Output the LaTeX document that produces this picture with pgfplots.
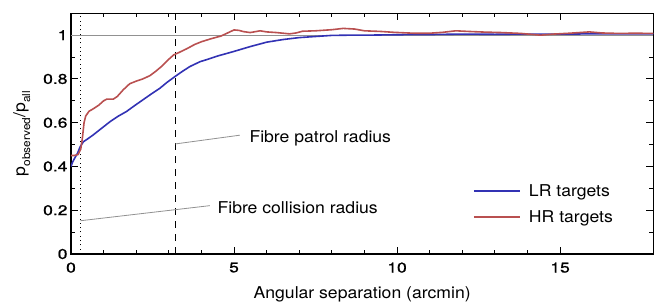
\documentclass[border=0pt]{standalone}
\usepackage{fontspec}
\setmainfont[FakeStretch=1.08]{TeX Gyre Heros}
\newfontfamily\tickfont[FakeStretch=1.24,FakeBold=1]{TeX Gyre Heros}
\usepackage{pgfplots}
\pgfplotsset{compat=1.18}
\definecolor{lrblue}{RGB}{50,50,180}
\definecolor{hrred}{RGB}{185,80,80}
\definecolor{annot}{RGB}{145,145,145}
\begin{document}
\begin{tikzpicture}
\begin{axis}[
  scale only axis, width=582.3pt, height=240.7pt,
  xmin=0, xmax=17.86, ymin=0, ymax=1.1,
  xtick={0,5,10,15}, minor x tick num=4,
  ytick={0,0.2,0.4,0.6,0.8,1}, minor y tick num=1,
  tick align=inside, major tick length=7pt, minor tick length=4pt,
  every tick/.style={black, line width=1pt},
  axis line style={line width=1.3pt},
  /pgf/number format/assume math mode=true,
  tick label style={font=\tickfont\fontsize{14.1}{14.1}\selectfont},
  xticklabel style={yshift=-5pt},
  label style={font=\fontsize{16.3}{18}\selectfont},
  xlabel={Angular separation (arcmin)},
  xlabel style={yshift=-7pt},
  ylabel={p\raisebox{-0.3em}{\fontsize{11}{11}\selectfont observed}/p\raisebox{-0.3em}{\fontsize{11}{11}\selectfont all}},
  ylabel shift=6pt,
  legend style={draw=none, fill=none, at={(rel axis cs:0.69,0.295)}, anchor=north west,
    font=\fontsize{16.3}{18}\selectfont, row sep=11pt, inner sep=0pt, nodes={inner sep=1pt},
    column sep=7pt},
  legend cell align=left,
  legend image code/.code={\draw[#1, line width=2pt] (0pt,0pt) -- (46pt,0pt);},
]
\addplot[annot, line width=0.8pt, forget plot] coordinates {(0,1) (17.86,1)};
\addplot[black, line width=1pt, dash pattern=on 1pt off 3.3pt, forget plot] coordinates {(0.29,0) (0.29,1.1)};
\addplot[black, line width=1pt, dash pattern=on 7pt off 6pt, forget plot] coordinates {(3.2,0) (3.2,1.1)};
\addplot[annot, line width=0.8pt, forget plot] coordinates {(3.2,0.503) (5.18,0.543)};
\addplot[annot, line width=0.8pt, forget plot] coordinates {(0.29,0.152) (4.26,0.221)};

\addplot[lrblue, line width=1.6pt] coordinates {
(0,0.40) (0.05,0.42) (0.12,0.44) (0.2,0.46) (0.28,0.49) (0.38,0.513) (0.5,0.525) (0.68,0.544)
(0.9,0.57) (1.2,0.605) (1.45,0.63) (1.7,0.651) (1.95,0.678) (2.2,0.704) (2.45,0.73)
(2.73,0.758) (2.95,0.785) (3.19,0.811) (3.42,0.835) (3.65,0.857) (3.96,0.879) (4.2,0.89)
(4.5,0.905) (4.98,0.925) (5.5,0.948) (6.0,0.968) (6.5,0.98) (7.0,0.989) (7.5,0.994)
(8.0,0.999) (8.5,1.0) (9.0,1.0) (10,1.002) (11,1.003) (12,1.005) (13,1.004) (14,1.005)
(15,1.005) (16,1.006) (17,1.006) (17.86,1.006)
};
\addlegendentry{LR targets}
\addplot[hrred, line width=1.6pt] coordinates {
(0,0.45) (0.1,0.45) (0.22,0.455) (0.3,0.48) (0.35,0.53) (0.4,0.6) (0.45,0.63) (0.55,0.652)
(0.7,0.665) (0.85,0.68) (1.0,0.70) (1.1,0.708) (1.3,0.708) (1.42,0.72) (1.6,0.75)
(1.8,0.778) (2.0,0.79) (2.2,0.80) (2.42,0.815) (2.6,0.835) (2.8,0.86) (3.0,0.89)
(3.15,0.91) (3.3,0.92) (3.55,0.938) (3.8,0.958) (4.0,0.97) (4.3,0.984) (4.6,0.996)
(4.8,1.01) (5.0,1.024) (5.15,1.022) (5.3,1.016) (5.5,1.012) (5.65,1.016) (5.8,1.02)
(6.0,1.015) (6.3,1.012) (6.7,1.006) (6.9,1.01) (7.1,1.018) (7.5,1.02) (8.0,1.025)
(8.35,1.031) (8.7,1.028) (9.0,1.02) (9.5,1.017) (9.9,1.013) (10.5,1.009) (11.0,1.009)
(11.4,1.013) (11.8,1.02) (12.2,1.017) (12.7,1.014) (13.2,1.012) (13.8,1.008) (14.4,1.0)
(14.8,1.005) (15.3,1.009) (15.9,1.015) (16.3,1.01) (16.8,1.008) (17.3,1.009) (17.86,1.008)
};
\addlegendentry{HR targets}
\node[anchor=base west, inner sep=0pt, font=\fontsize{16.3}{18}\selectfont] at (axis cs:5.47,0.509) {Fibre patrol radius};
\node[anchor=base west, inner sep=0pt, font=\fontsize{16.3}{18}\selectfont] at (axis cs:4.49,0.186) {Fibre collision radius};
\end{axis}
\pgfresetboundingbox
\path[use as bounding box] ([xshift=-71pt,yshift=-51pt]current axis.south west) rectangle ([xshift=2.7pt,yshift=13.3pt]current axis.north east);
\end{tikzpicture}
\end{document}
